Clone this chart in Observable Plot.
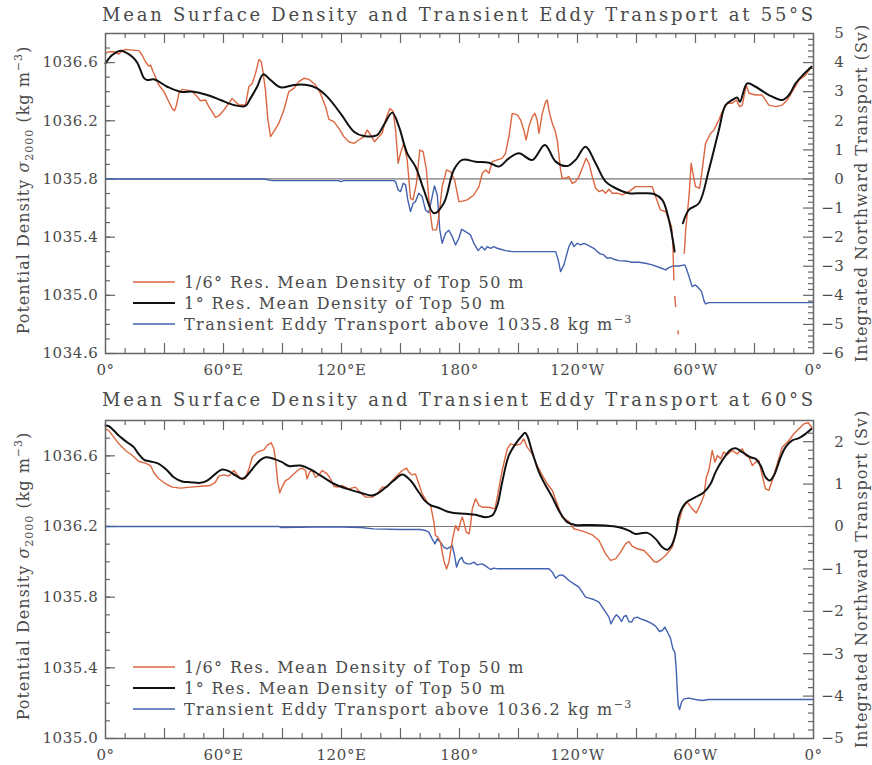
<!DOCTYPE html>
<html>
<head>
<meta charset="utf-8">
<script src="https://cdn.jsdelivr.net/npm/d3@7"></script>
<script src="https://cdn.jsdelivr.net/npm/@observablehq/plot@0.6"></script>
<style>
  body { margin: 0; background: #fff; }
  #chart svg { display: block; }
</style>
</head>
<body>
<div id="chart"></div>
<script>
// ---------- 55°S : [longitude (0–360 °E), value] ----------
// 1/6° resolution mean density of top 50 m (kg m^-3, σ2000)
const hires55 = [
  [0,1036.663],[1.7,1036.675],[4.2,1036.675],[6.8,1036.659],[8.5,1036.682],[10.2,1036.691],[13.6,1036.686],[17.0,1036.682],
  [18.6,1036.652],[20.3,1036.606],[22.0,1036.576],[22.9,1036.583],[24.2,1036.537],[25.4,1036.503],[27.1,1036.446],[29.7,1036.400],
  [32.2,1036.331],[33.9,1036.285],[35.1,1036.269],[36.1,1036.308],[37.3,1036.389],[39.0,1036.416],[41.5,1036.411],[44.1,1036.400],
  [46.6,1036.366],[48.3,1036.338],[50.9,1036.343],[52.5,1036.297],[54.2,1036.263],[55.9,1036.224],[57.6,1036.233],[60.2,1036.274],
  [62.7,1036.320],[64.4,1036.354],[66.1,1036.331],[67.8,1036.308],[71.2,1036.308],[72.0,1036.366],[72.9,1036.434],[74.6,1036.457],
  [76.3,1036.526],[78.0,1036.622],[79.2,1036.606],[80.2,1036.526],[81.4,1036.400],[82.5,1036.217],[83.9,1036.091],[85.6,1036.125],
  [88.1,1036.182],[90.7,1036.274],[93.2,1036.400],[95.8,1036.423],[98.3,1036.469],[100.9,1036.492],[103.4,1036.485],[106.8,1036.446],
  [109.3,1036.389],[111.9,1036.297],[113.6,1036.210],[116.1,1036.194],[118.7,1036.148],[121.2,1036.091],[123.7,1036.056],[126.3,1036.045],
  [128.8,1036.068],[131.4,1036.091],[133.1,1036.137],[134.8,1036.102],[136.8,1036.056],[139.0,1036.091],[140.7,1036.114],[142.4,1036.205],
  [144.6,1036.285],[146.3,1036.263],[147.5,1036.137],[148.8,1035.908],[150.0,1035.976],[151.7,1036.045],[153.4,1035.931],[155.1,1035.667],
  [156.4,1035.656],[158.1,1035.770],[159.8,1035.999],[161.5,1035.988],[163.2,1035.862],[164.9,1035.587],[166.3,1035.450],[168.3,1035.450],
  [169.5,1035.541],[171.2,1035.747],[173.4,1035.862],[175.4,1035.850],[177.5,1035.793],[179.7,1035.644],[180.5,1035.644],[183.9,1035.656],
  [187.3,1035.690],[189.9,1035.747],[191.6,1035.839],[193.3,1035.862],[195.0,1035.839],[196.6,1035.919],[199.2,1035.931],[201.7,1035.942],
  [203.4,1035.976],[205.1,1036.091],[206.8,1036.251],[209.4,1036.240],[211.1,1036.205],[212.7,1036.137],[213.9,1036.068],[215.3,1036.160],
  [217.0,1036.228],[218.3,1036.251],[219.5,1036.205],[220.4,1036.114],[222.1,1036.251],[223.8,1036.331],[224.6,1036.343],[225.8,1036.251],
  [227.2,1036.182],[228.5,1036.137],[229.7,1036.068],[231.4,1035.862],[232.2,1035.805],[233.9,1035.805],[235.6,1035.816],[237.3,1035.770],
  [239.0,1035.782],[240.7,1035.816],[242.4,1035.873],[244.4,1035.942],[245.8,1035.908],[247.5,1035.816],[249.2,1035.736],[250.9,1035.713],
  [252.6,1035.724],[254.3,1035.702],[256.0,1035.729],[257.7,1035.702],[260.2,1035.702],[262.8,1035.690],[266.1,1035.713],[269.5,1035.747],
  [272.1,1035.747],[275.5,1035.747],[278.0,1035.747],[279.7,1035.679],[282.2,1035.587],[284.8,1035.576],[286.5,1035.518],[287.8,1035.473],
  [288.5,1035.358],[289.0,1035.106],[289.2,NaN],[289.5,1034.992],[289.9,1034.923],[290.5,NaN],[291.1,1034.755],[291.25,1034.735],[291.4,NaN],
  [294.3,1035.289],[295.0,1035.450],[296.7,1035.679],[297.8,1035.908],[298.7,1035.839],[300.0,1035.747],[302.1,1035.736],[303.4,1035.862],
  [305.1,1036.045],[307.7,1036.114],[309.4,1036.137],[311.9,1036.205],[313.6,1036.263],[316.1,1036.320],[318.7,1036.320],[320.7,1036.343],
  [322.4,1036.297],[323.8,1036.308],[325.8,1036.446],[327.2,1036.389],[330.6,1036.377],[333.9,1036.377],[337.3,1036.308],[340.7,1036.297],
  [344.1,1036.308],[346.7,1036.343],[349.2,1036.400],[352.6,1036.480],[356.0,1036.514],[359.0,1036.572]
];
// 1° resolution mean density of top 50 m
const lowres55 = [
  [0,1036.595],[3.4,1036.652],[7.6,1036.682],[10.2,1036.670],[13.6,1036.640],[16.1,1036.600],[17.8,1036.548],[19.5,1036.495],[21.2,1036.480],
  [24.6,1036.485],[31.4,1036.434],
  [38.1,1036.400],[44.9,1036.400],[51.7,1036.377],[58.5,1036.343],[65.3,1036.308],[71.2,1036.302],[73.7,1036.354],[77.1,1036.434],
  [80.2,1036.519],[83.9,1036.480],[89.0,1036.430],[95.8,1036.446],[102.5,1036.446],[107.6,1036.423],[112.7,1036.366],[119.5,1036.251],
  [126.3,1036.125],[131.4,1036.095],[138.1,1036.102],[141.5,1036.171],[145.8,1036.256],[149.2,1036.160],[153.4,1035.976],[157.6,1035.885],
  [161.9,1035.724],[167.0,1035.564],[172.0,1035.633],[177.1,1035.862],[181.4,1035.931],[188.2,1035.919],[195.0,1035.912],[200.0,1035.885],
  [205.1,1035.942],[210.2,1035.976],[217.0,1035.931],[223.4,1036.034],[228.9,1035.919],[234.8,1035.889],[239.0,1035.931],[244.1,1036.022],
  [249.2,1035.908],[254.3,1035.782],[259.4,1035.736],[266.1,1035.702],[272.9,1035.702],[278.9,1035.697],[283.1,1035.656],[286.5,1035.518],
  [289.4,1035.301],[291.5,NaN],[293.6,1035.495],[296.6,1035.587],[301.7,1035.633],[306.8,1035.862],[311.9,1036.137],[315.3,1036.308],
  [318.7,1036.343],[321.2,1036.360],[322.6,1036.331],[326.3,1036.457],[330.6,1036.434],[337.3,1036.377],[344.1,1036.343],[347.5,1036.377],
  [350.9,1036.457],[355.0,1036.520],[359.0,1036.572]
];
// Integrated northward transient eddy transport above 1035.8 kg m^-3 (Sv)
const eddy55 = [
  [0,0],[80.5,0],[84.8,-0.057],[118.7,-0.057],[119.5,-0.092],[121.2,-0.057],[146.6,-0.057],[147.5,-0.092],[148.8,-0.378],[150.0,-0.435],
  [151.4,-0.149],[152.6,-0.206],[153.7,-0.722],[155.1,-1.123],[156.4,-0.836],[157.6,-0.779],[159.3,-0.493],[161.0,-0.607],[162.7,-1.065],
  [164.4,-1.157],[166.1,-0.607],[167.3,-0.241],[168.7,-0.550],[170.0,-1.763],[171.2,-2.211],[172.9,-1.867],[174.6,-1.763],[176.3,-1.982],
  [178.0,-2.268],[179.7,-2.039],[181.1,-1.730],[183.1,-1.810],[185.6,-1.924],[187.3,-2.211],[189.5,-2.463],[191.2,-2.325],[192.9,-2.440],
  [194.1,-2.325],[195.8,-2.383],[197.5,-2.325],[199.2,-2.383],[200.9,-2.417],[203.4,-2.463],[206.8,-2.497],[228.9,-2.497],[230.2,-2.784],
  [231.4,-3.184],[233.1,-2.955],[235.6,-2.325],[237.0,-2.153],[238.2,-2.325],[239.9,-2.211],[241.6,-2.268],[243.3,-2.211],[245.0,-2.268],
  [246.6,-2.325],[248.3,-2.383],[250.0,-2.497],[251.7,-2.577],[253.4,-2.612],[255.1,-2.726],[256.8,-2.703],[258.5,-2.761],[261.1,-2.806],
  [264.4,-2.818],[267.8,-2.864],[271.2,-2.864],[274.6,-2.898],[278.0,-2.955],[281.4,-3.035],[284.8,-3.127],[286.5,-3.047],[288.5,-2.990],
  [291.6,-2.990],[294.6,-2.955],[295.3,-3.070],[296.7,-3.356],[298.3,-3.700],[300.0,-3.643],[301.7,-3.757],[303.1,-3.872],[304.3,-4.181],
  [305.1,-4.296],[306.8,-4.250],[360,-4.250]
];

// ---------- 60°S ----------
const hires60 = [
  [0,1036.753],[1.7,1036.743],[4.2,1036.706],[6.8,1036.668],[10.2,1036.630],[13.6,1036.602],[17.0,1036.568],[20.3,1036.559],[22.9,1036.545],
  [24.6,1036.504],[27.1,1036.470],[30.5,1036.442],[33.9,1036.423],[38.1,1036.417],[43.2,1036.423],[48.3,1036.428],[53.4,1036.432],[55.9,1036.451],
  [57.6,1036.485],[60.2,1036.492],[62.7,1036.485],[65.3,1036.517],[67.3,1036.489],[69.5,1036.466],[71.2,1036.474],[72.9,1036.526],[74.6,1036.592],
  [77.1,1036.621],[80.5,1036.634],[82.2,1036.659],[84.2,1036.674],[85.6,1036.640],[86.4,1036.583],[87.6,1036.451],[88.6,1036.391],[89.8,1036.423],
  [91.5,1036.460],[93.2,1036.470],[95.8,1036.498],[98.3,1036.523],[100.0,1036.530],[101.7,1036.517],[102.5,1036.470],[103.9,1036.511],[105.1,1036.517],
  [106.8,1036.479],[108.5,1036.492],[110.2,1036.517],[112.7,1036.498],[114.4,1036.470],[116.1,1036.428],[117.8,1036.423],[120.3,1036.432],[123.7,1036.413],
  [127.1,1036.423],[129.7,1036.391],[132.2,1036.366],[135.6,1036.366],[138.1,1036.385],[140.7,1036.423],[143.2,1036.423],[145.8,1036.460],[148.3,1036.489],
  [150.9,1036.517],[153.1,1036.530],[154.2,1036.508],[155.9,1036.492],[157.6,1036.498],[159.3,1036.442],[161.0,1036.385],[163.6,1036.338],[165.3,1036.319],
  [167.0,1036.225],[167.8,1036.149],[169.0,1036.140],[170.3,1036.111],[172.0,1036.008],[173.4,1035.960],[174.6,1035.998],[175.8,1036.083],[176.8,1036.149],
  [178.0,1036.205],[179.4,1036.177],[180.5,1036.225],[181.4,1036.253],[182.2,1036.225],[183.4,1036.168],[184.8,1036.158],[185.6,1036.206],[186.5,1036.300],
  [188.2,1036.357],[189.9,1036.319],[191.6,1036.309],[195.0,1036.309],[198.0,1036.300],[199.2,1036.366],[201.7,1036.517],[204.3,1036.640],[206.0,1036.668],
  [208.5,1036.659],[211.1,1036.668],[212.7,1036.696],[214.4,1036.649],[217.0,1036.611],[219.5,1036.545],[222.1,1036.489],[224.6,1036.442],[227.2,1036.404],
  [229.7,1036.328],[232.2,1036.253],[235.6,1036.228],[238.2,1036.187],[241.6,1036.177],[244.1,1036.168],[247.5,1036.153],[250.9,1036.121],[254.3,1036.045],
  [256.8,1036.008],[259.4,1036.017],[261.9,1036.055],[264.4,1036.102],[266.1,1036.115],[267.8,1036.089],[270.4,1036.074],[273.8,1036.064],[276.3,1036.036],
  [278.9,1036.002],[280.5,1035.998],[282.8,1036.017],[284.8,1036.036],[288.2,1036.083],[290.7,1036.187],[293.3,1036.300],[295.8,1036.338],[298.3,1036.300],
  [300.4,1036.277],[302.6,1036.328],[304.3,1036.375],[305.5,1036.479],[306.8,1036.517],[308.5,1036.630],[309.9,1036.564],[311.1,1036.602],[312.8,1036.583],
  [314.4,1036.621],[316.1,1036.606],[318.7,1036.630],[321.2,1036.611],[323.8,1036.640],[325.5,1036.602],[327.2,1036.592],[328.9,1036.545],[330.6,1036.564],
  [332.2,1036.574],[333.9,1036.489],[335.6,1036.413],[337.3,1036.404],[339.0,1036.460],[341.6,1036.555],[344.1,1036.649],[347.5,1036.687],[350.0,1036.725],
  [352.6,1036.753],[355.1,1036.781],[357.3,1036.787],[359.0,1036.762]
];
const lowres60 = [
  [0,1036.772],[1.7,1036.768],[4.2,1036.743],[7.6,1036.706],[11.0,1036.677],[14.4,1036.649],[16.1,1036.621],[19.5,1036.579],[22.9,1036.568],
  [27.1,1036.555],[31.4,1036.517],[34.7,1036.479],[39.0,1036.455],[43.2,1036.451],[48.3,1036.447],[51.7,1036.460],[55.9,1036.498],[59.3,1036.523],
  [62.7,1036.513],[66.1,1036.489],[69.5,1036.470],[72.0,1036.489],[75.4,1036.536],[78.8,1036.577],[81.4,1036.592],[85.6,1036.583],[89.8,1036.564],
  [93.2,1036.542],[99.2,1036.545],[104.2,1036.523],[109.3,1036.489],[116.1,1036.442],[122.9,1036.413],[129.7,1036.391],[135.6,1036.375],[139.0,1036.391],
  [143.2,1036.428],[146.6,1036.460],[150.9,1036.494],[155.1,1036.460],[159.3,1036.394],[162.7,1036.342],[165.6,1036.319],[168.7,1036.309],[173.7,1036.285],
  [177.1,1036.277],[183.1,1036.272],[188.2,1036.266],[193.3,1036.253],[196.6,1036.262],[199.2,1036.319],[201.7,1036.451],[205.1,1036.602],[208.5,1036.668],
  [211.9,1036.715],[213.3,1036.730],[214.4,1036.715],[217.0,1036.621],[220.4,1036.508],[223.8,1036.432],[227.2,1036.366],[230.5,1036.291],[234.8,1036.225],
  [239.0,1036.209],[245.8,1036.209],[254.3,1036.206],[261.1,1036.196],[266.1,1036.177],[269.5,1036.158],[275.5,1036.164],[279.7,1036.130],[283.1,1036.083],
  [285.6,1036.068],[287.8,1036.092],[289.9,1036.158],[291.6,1036.262],[295.0,1036.334],[300.0,1036.366],[304.3,1036.394],[307.7,1036.442],[310.2,1036.508],
  [313.6,1036.574],[317.8,1036.634],[320.4,1036.643],[323.8,1036.621],[328.0,1036.592],[330.6,1036.583],[333.1,1036.545],[335.6,1036.479],[337.7,1036.460],
  [339.9,1036.489],[343.3,1036.592],[345.8,1036.649],[349.2,1036.687],[352.6,1036.700],[356.0,1036.725],[359.0,1036.753]
];
// Integrated northward transient eddy transport above 1036.2 kg m^-3 (Sv)
const eddy60 = [
  [0,0],[88.1,0],[89.0,-0.024],[116.1,-0.008],[129.7,-0.024],[136.4,-0.055],[150.0,-0.071],[160.2,-0.071],[162.7,-0.094],[164.4,-0.134],
  [166.1,-0.291],[167.5,-0.409],[168.7,-0.291],[170.3,-0.369],[172.0,-0.487],[173.7,-0.527],[175.1,-0.487],[176.3,-0.448],[177.5,-0.684],
  [178.5,-0.959],[179.7,-0.802],[181.1,-0.723],[182.2,-0.841],[183.9,-0.881],[185.6,-0.881],[187.3,-0.841],[189.0,-0.904],[191.6,-0.881],
  [194.1,-0.959],[195.8,-1.014],[197.5,-0.983],[199.2,-0.998],[225.5,-0.998],[227.2,-1.077],[228.9,-1.219],[230.5,-1.156],[232.2,-1.140],
  [233.9,-1.195],[235.6,-1.274],[238.2,-1.352],[240.7,-1.431],[242.4,-1.549],[244.1,-1.667],[245.8,-1.690],[248.3,-1.722],[250.9,-1.785],
  [252.6,-1.903],[254.3,-2.020],[256.0,-2.138],[257.0,-2.296],[258.5,-2.162],[259.7,-2.083],[261.1,-2.138],[262.4,-2.241],[263.6,-2.123],
  [264.8,-2.099],[266.1,-2.241],[267.5,-2.256],[268.7,-2.162],[270.4,-2.138],[272.1,-2.178],[274.6,-2.217],[277.2,-2.272],[279.7,-2.351],
  [281.7,-2.476],[283.1,-2.453],[284.4,-2.374],[285.6,-2.476],[287.3,-2.634],[288.5,-2.885],[289.5,-2.964],[290.2,-3.357],[290.7,-3.829],
  [291.2,-4.222],[291.9,-4.316],[292.9,-4.143],[294.1,-4.065],[296.7,-4.049],[300.0,-4.080],[303.4,-4.104],[306.8,-4.080],[360,-4.080]
];

// ---------- axes ----------
const lonTicks = [0, 60, 120, 180, 240, 300, 360];
const lonLabels = ["0°", "60°E", "120°E", "180°", "120°W", "60°W", "0°"];
const densTicks55 = [1034.6, 1035.0, 1035.4, 1035.8, 1036.2, 1036.6];
const densTicks60 = [1035.0, 1035.4, 1035.8, 1036.2, 1036.6];
const svTicks55 = [-6, -5, -4, -3, -2, -1, 0, 1, 2, 3, 4, 5];
const svTicks60 = [-5, -4, -3, -2, -1, 0, 1, 2];

const ORANGE = "#dc6640", BLACK = "#111", BLUE = "#4262b0", INK = "#4a4a4a", FRAME = "#666";
const W = 872, ML = 105, MR = 59;

function panel(o) {
  const innerW = W - ML - MR;
  const innerH = o.height - o.marginTop - o.marginBottom;
  const sv = s => o.base + o.k * s;        // transport (Sv) placed on the density scale
  const [y0, y1] = o.domain;
  const near = (v, step) => Math.abs(v / step - Math.round(v / step)) < 1e-6;
  const lonMinor = d3.range(10, 360, 10).filter(v => !near(v, 30));
  const lonMajor = d3.range(30, 360, 30);
  const densMinor = d3.range(Math.round(y0 * 10) + 1, Math.round(y1 * 10)).map(v => v / 10);
  const svAll = d3.range(Math.round((y0 - o.base) / o.k * 5) + 1, Math.round((y1 - o.base) / o.k * 5)).map(v => v / 5);
  const svMinor = svAll.filter(v => !near(v, 1));
  const svMajor = svAll.filter(v => near(v, 1));
  const svg = Plot.plot({
    width: W, height: o.height,
    marginLeft: ML, marginRight: MR, marginTop: o.marginTop, marginBottom: o.marginBottom,
    x: {domain: [0, 360], axis: null},
    y: {domain: o.domain, axis: null},
    style: {fontFamily: "DejaVu Serif", fontSize: "15px", color: INK, background: "#fff", letterSpacing: "0.6px"},
    marks: [
      // inward ticks, bottom and top
      Plot.tickX(lonMinor, {x: d => d, insetTop: innerH - 5, stroke: FRAME, strokeWidth: 1.2}),
      Plot.tickX(lonMajor, {x: d => d, insetTop: innerH - 10, stroke: FRAME, strokeWidth: 1.2}),
      Plot.tickX(lonMinor, {x: d => d, insetBottom: innerH - 5, stroke: FRAME, strokeWidth: 1.2}),
      Plot.tickX(lonMajor, {x: d => d, insetBottom: innerH - 10, stroke: FRAME, strokeWidth: 1.2}),
      // left density ticks
      Plot.tickY(densMinor, {y: d => d, insetRight: innerW - 5, stroke: FRAME, strokeWidth: 1.2}),
      Plot.tickY(o.densTicks, {y: d => d, insetRight: innerW - 10, stroke: FRAME, strokeWidth: 1.2}),
      // right transport ticks
      Plot.tickY(svMinor, {y: sv, insetLeft: innerW - 5, stroke: FRAME, strokeWidth: 1.2}),
      Plot.tickY(svMajor, {y: sv, insetLeft: innerW - 10, stroke: FRAME, strokeWidth: 1.2}),
      // tick labels
      Plot.text(lonTicks, {x: d => d, text: (d, i) => lonLabels[i], frameAnchor: "bottom", dy: 17, lineAnchor: "middle", fill: INK}),
      Plot.text(o.densTicks, {y: d => d, text: d => d.toFixed(1), frameAnchor: "left", textAnchor: "end", dx: -7, lineAnchor: "middle", fill: INK}),
      Plot.text(o.svTicks, {y: sv, text: s => (s < 0 ? "\u2212" + (-s) : String(s)), frameAnchor: "right", textAnchor: "end", dx: 31, lineAnchor: "middle", fill: INK}),
      // zero-transport reference line
      Plot.ruleY([0], {y: sv, stroke: "#777", strokeWidth: 1.2}),
      // data
      Plot.line(o.eddy, {x: d => d[0], y: d => sv(d[1]), stroke: BLUE, strokeWidth: 1.4}),
      Plot.line(o.hires, {x: d => d[0], y: d => d[1], stroke: ORANGE, strokeWidth: 1.4}),
      Plot.line(o.lowres, {x: d => d[0], y: d => d[1], stroke: BLACK, strokeWidth: 2, curve: "catmull-rom"}),
      Plot.frame({stroke: FRAME, strokeWidth: 1.5})
    ]
  });

  const root = d3.select(svg);
  const g = root.append("g").attr("font-family", "DejaVu Serif").attr("fill", INK);
  const cy = o.marginTop + innerH / 2;

  // title
  g.append("text").attr("x", ML + innerW / 2).attr("y", o.titleY)
    .attr("text-anchor", "middle").attr("font-size", 18).attr("letter-spacing", "2.75px")
    .text(o.title);

  // left axis title
  const lt = g.append("text").attr("transform", `translate(29,${cy - 3}) rotate(-90)`)
    .attr("text-anchor", "middle").attr("font-size", 16).attr("letter-spacing", "1px");
  lt.append("tspan").text("Potential Density ");
  lt.append("tspan").attr("font-style", "italic").text("σ");
  lt.append("tspan").attr("font-size", 11).attr("dy", 4).text("2000");
  lt.append("tspan").attr("dy", -4).text(" (kg m");
  lt.append("tspan").attr("font-size", 11).attr("dy", -7).text("\u22123");
  lt.append("tspan").attr("dy", 7).text(")");

  // right axis title
  g.append("text").attr("transform", `translate(867,${cy}) rotate(-90)`)
    .attr("text-anchor", "middle").attr("font-size", 16).attr("letter-spacing", "1px")
    .text("Integrated Northward Transport (Sv)");

  // legend
  const items = [
    {color: ORANGE, width: 1.4, label: ["1/6° Res. Mean Density of Top 50 m"]},
    {color: BLACK, width: 2, label: ["1° Res. Mean Density of Top 50 m"]},
    {color: BLUE, width: 1.4, label: [`Transient Eddy Transport above ${o.threshold} kg m`, "\u22123"]}
  ];
  items.forEach((it, i) => {
    const y = o.legendY + i * 21;
    g.append("line").attr("x1", 133).attr("x2", 175).attr("y1", y).attr("y2", y)
      .attr("stroke", it.color).attr("stroke-width", it.width);
    const t = g.append("text").attr("x", 184).attr("y", y + 5.5).attr("text-anchor", "start")
      .attr("font-size", 16).attr("letter-spacing", "1.45px");
    t.append("tspan").text(it.label[0]);
    if (it.label[1]) t.append("tspan").attr("font-size", 11).attr("dy", -7).text(it.label[1]);
  });
  return svg;
}

const chart = document.getElementById("chart");
chart.append(panel({
  height: 382, marginTop: 33, marginBottom: 29,
  domain: [1034.6, 1036.8], base: 1035.8, k: 0.2,
  densTicks: densTicks55, svTicks: svTicks55,
  hires: hires55, lowres: lowres55, eddy: eddy55,
  title: "Mean Surface Density and Transient Eddy Transport at 55°S",
  titleY: 21, legendY: 282, threshold: "1035.8"
}));
chart.append(panel({
  height: 383, marginTop: 38, marginBottom: 27,
  domain: [1035.0, 1036.8], base: 1036.2, k: 0.24,
  densTicks: densTicks60, svTicks: svTicks60,
  hires: hires60, lowres: lowres60, eddy: eddy60,
  title: "Mean Surface Density and Transient Eddy Transport at 60°S",
  titleY: 24, legendY: 285, threshold: "1036.2"
}));
</script>
</body>
</html>
